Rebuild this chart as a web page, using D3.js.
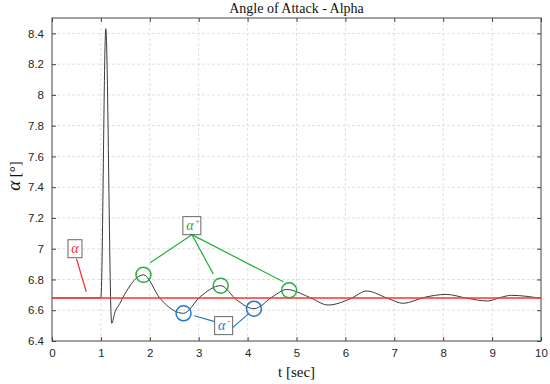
<!DOCTYPE html>
<meta charset="utf-8">
<style>
  body { margin: 0; background: #fff; }
  svg { display: block; }
  .tick text { font: 11.5px "Liberation Sans", Arial, sans-serif; fill: #262626; }
  .serif { font-family: "Liberation Serif", "Times New Roman", serif; }
</style>
<body>
<script src="https://cdn.jsdelivr.net/npm/d3@7"></script>
<script>
// time [sec] and angle of attack [deg]
var timeSec  = [0, 1.0, 1.10, 1.22, 1.29, 1.39, 1.48, 1.87, 2.21, 2.48, 2.69, 3.03, 3.45, 3.78, 4.13,
                4.52, 4.80, 5.24, 5.65, 6.12, 6.43, 6.87, 7.18, 7.62, 8.06, 8.50, 8.91, 9.18, 9.39, 10];
var alphaDeg = [6.68, 6.68, 8.43, 6.515, 6.59, 6.645, 6.70, 6.83, 6.677, 6.60, 6.58, 6.688, 6.76, 6.666, 6.61,
                6.69, 6.735, 6.688, 6.634, 6.677, 6.725, 6.677, 6.645, 6.684, 6.703, 6.677, 6.66, 6.684, 6.697, 6.677];

// mean value (red line)
var alphaMean = 6.68;

// ticks
var xTicks = [0, 1, 2, 3, 4, 5, 6, 7, 8, 9, 10];
var yTicks = [6.4, 6.6, 6.8, 7, 7.2, 7.4, 7.6, 7.8, 8, 8.2, 8.4];
var yTickLabels = ["6.4", "6.6", "6.8", "7", "7.2", "7.4", "7.6", "7.8", "8", "8.2", "8.4"];

// annotations (data coords)
var peakT   = [1.87, 3.45, 4.85],  peakV   = [6.83, 6.76, 6.73];
var troughT = [2.69, 4.13],        troughV = [6.58, 6.61];
var plusLeaderT  = [2.006, 3.30, 4.73], plusLeaderV  = [6.908, 6.835, 6.785];
var minusLeaderT = [2.91, 4.01],        minusLeaderV = [6.564, 6.575];
var labelBoxes = [
  {name: "alpha",  t: 0.47, v: 7.00, sup: "",  color: "#ff2b2b"},
  {name: "plus",   t: 2.86, v: 7.15, sup: "+", color: "#22b03c"},
  {name: "minus",  t: 3.51, v: 6.50, sup: "-", color: "#2277c8"}
];

var width = 550, height = 384;
var margin = {top: 18, right: 9, bottom: 43, left: 52};

var svg = d3.select("body").append("svg")
  .attr("width", width)
  .attr("height", height);

var x = d3.scaleLinear().domain([0, 10]).range([margin.left, width - margin.right]);
var y = d3.scaleLinear().domain([6.4, 8.5]).range([height - margin.bottom, margin.top]);

var x0 = x.range()[0], x1 = x.range()[1], y0 = y.range()[0], y1 = y.range()[1];

// grid
var grid = svg.append("g").attr("stroke", "#d9d9d9").attr("stroke-dasharray", "3,2").attr("stroke-width", 0.8);
grid.selectAll(".gx").data(xTicks.slice(1, -1)).enter().append("line")
  .attr("x1", function(d){ return x(d); }).attr("x2", function(d){ return x(d); })
  .attr("y1", y0).attr("y2", y1);
grid.selectAll(".gy").data(yTicks.slice(1)).enter().append("line")
  .attr("y1", function(d){ return y(d); }).attr("y2", function(d){ return y(d); })
  .attr("x1", x0).attr("x2", x1);

// axes
var xAxis = svg.append("g")
  .attr("transform", "translate(0," + y0 + ")")
  .call(d3.axisBottom(x).tickValues(xTicks).tickSizeInner(-4).tickSizeOuter(0).tickPadding(8));
var xAxisTop = svg.append("g")
  .attr("transform", "translate(0," + y1 + ")")
  .call(d3.axisTop(x).tickValues(xTicks).tickSizeInner(-4).tickSizeOuter(0).tickFormat(""));
var yAxis = svg.append("g")
  .attr("transform", "translate(" + x0 + ",0)")
  .call(d3.axisLeft(y).tickValues(yTicks).tickSizeInner(-4).tickSizeOuter(0).tickPadding(8)
    .tickFormat(function(d, i){ return yTickLabels[i]; }));
var yAxisRight = svg.append("g")
  .attr("transform", "translate(" + x1 + ",0)")
  .call(d3.axisRight(y).tickValues(yTicks).tickSizeInner(-4).tickSizeOuter(0).tickFormat(""));

[xAxis, xAxisTop, yAxis, yAxisRight].forEach(function(a){
  a.select(".domain").remove();
  a.selectAll(".tick line").attr("stroke", "#444");
});

// box frame
svg.append("rect")
  .attr("x", x0).attr("y", y1)
  .attr("width", x1 - x0).attr("height", y0 - y1)
  .attr("fill", "none").attr("stroke", "#444").attr("stroke-width", 1);

// alpha curve
var line = d3.line()
  .x(function(d){ return x(d[0]); })
  .y(function(d){ return y(d[1]); })
  .curve(d3.curveMonotoneX);

svg.append("path")
  .datum(d3.zip(timeSec, alphaDeg))
  .attr("fill", "none")
  .attr("stroke", "#3a3a3a")
  .attr("stroke-width", 1)
  .attr("d", line);

// mean line
svg.append("line")
  .attr("x1", x(0)).attr("x2", x(10))
  .attr("y1", y(alphaMean)).attr("y2", y(alphaMean))
  .attr("stroke", "#ff3030").attr("stroke-width", 1.5);

// leaders
var plus = labelBoxes[1], minus = labelBoxes[2], alpha = labelBoxes[0];
var boxH = 18;

svg.append("line")
  .attr("x1", x(alpha.t) + 1.5).attr("y1", y(alpha.v) + boxH / 2 + 1)
  .attr("x2", x(0.70)).attr("y2", y(6.72))
  .attr("stroke", alpha.color).attr("stroke-width", 1.2);

plusLeaderT.forEach(function(t, i){
  svg.append("line")
    .attr("x1", x(plus.t)).attr("y1", y(plus.v) + boxH / 2)
    .attr("x2", x(t)).attr("y2", y(plusLeaderV[i]))
    .attr("stroke", plus.color).attr("stroke-width", 1.2);
});

minusLeaderT.forEach(function(t, i){
  var side = t < minus.t ? -1 : 1;
  svg.append("line")
    .attr("x1", x(minus.t) + side * 9).attr("y1", y(minus.v) + (side < 0 ? -4 : 2))
    .attr("x2", x(t)).attr("y2", y(minusLeaderV[i]))
    .attr("stroke", minus.color).attr("stroke-width", 1.2);
});

// circles
svg.selectAll(".peak").data(d3.zip(peakT, peakV)).enter().append("circle")
  .attr("cx", function(d){ return x(d[0]); })
  .attr("cy", function(d){ return y(d[1]); })
  .attr("r", 7.5)
  .attr("fill", "none").attr("stroke", plus.color).attr("stroke-width", 1.5);

svg.selectAll(".trough").data(d3.zip(troughT, troughV)).enter().append("circle")
  .attr("cx", function(d){ return x(d[0]); })
  .attr("cy", function(d){ return y(d[1]); })
  .attr("r", 7.5)
  .attr("fill", "none").attr("stroke", minus.color).attr("stroke-width", 1.5);

// label boxes
labelBoxes.forEach(function(b){
  var g = svg.append("g").attr("transform", "translate(" + x(b.t) + "," + y(b.v) + ")");
  var w = b.sup ? 18 : 14;
  g.append("rect")
    .attr("x", -w / 2).attr("y", -boxH / 2)
    .attr("width", w).attr("height", boxH)
    .attr("fill", "#fff").attr("stroke", "#666").attr("stroke-width", 1);
  g.append("text")
    .attr("class", "serif")
    .attr("x", b.sup ? -2 : 0).attr("y", 4)
    .attr("text-anchor", "middle")
    .attr("fill", b.color)
    .style("font-size", "14px").style("font-style", "italic")
    .text("α");
  if (b.sup) {
    g.append("text")
      .attr("class", "serif")
      .attr("x", 3.5).attr("y", -2)
      .attr("fill", b.color)
      .style("font-size", "8px")
      .text(b.sup);
  }
});

// title and labels
svg.append("text")
  .attr("class", "serif")
  .attr("x", (x0 + x1) / 2).attr("y", 13)
  .attr("text-anchor", "middle")
  .attr("fill", "#111")
  .style("font-size", "14px")
  .text("Angle of Attack - Alpha");

svg.append("text")
  .attr("class", "serif")
  .attr("x", (x0 + x1) / 2).attr("y", 377)
  .attr("text-anchor", "middle")
  .attr("fill", "#111")
  .style("font-size", "15px")
  .text("t  [sec]");

var yl = svg.append("text")
  .attr("class", "serif")
  .attr("transform", "translate(20,176) rotate(-90)")
  .attr("text-anchor", "middle")
  .attr("fill", "#111");
yl.append("tspan").style("font-size", "19px").style("font-style", "italic").text("α");
yl.append("tspan").style("font-size", "15px").text(" [°]");
</script>
</body>
